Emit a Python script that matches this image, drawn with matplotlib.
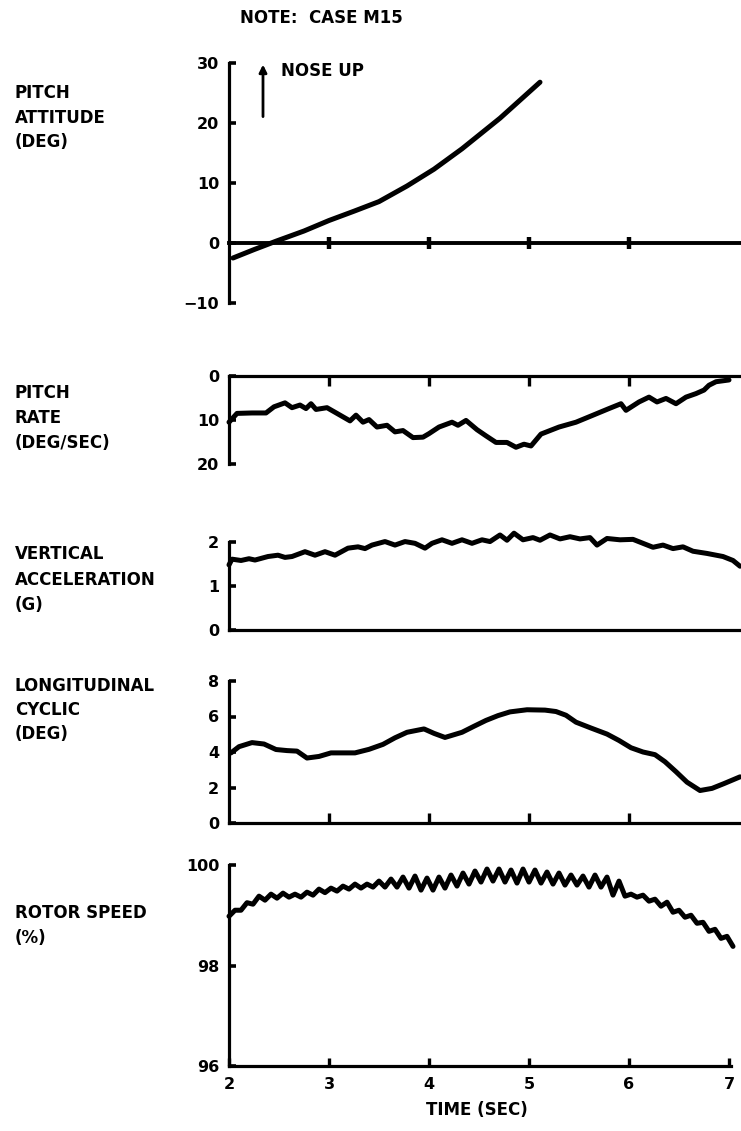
import matplotlib
matplotlib.use("Agg")
import matplotlib.pyplot as plt
import numpy as np

plt.rcParams['font.family'] = ['DejaVu Sans']
plt.rcParams['font.weight'] = 'bold'

# ---- time histories, case M15 ----
pitch_att_t = [2.04, 2.25, 2.47, 2.75, 3.00, 3.25, 3.50, 3.78, 4.05, 4.33, 4.71, 5.11]
pitch_att_deg = [-2.5, -1.1, 0.3, 2.0, 3.75, 5.3, 6.9, 9.5, 12.3, 15.7, 20.8, 26.8]

pitch_rate_t = [2.00, 2.08, 2.23, 2.37, 2.45, 2.56, 2.63, 2.71, 2.77, 2.82, 2.87, 2.98,
                3.08, 3.21, 3.27, 3.34, 3.40, 3.48, 3.58, 3.66, 3.74, 3.84, 3.94, 4.00,
                4.10, 4.23, 4.29, 4.37, 4.48, 4.57, 4.67, 4.78, 4.87, 4.95, 5.02, 5.12,
                5.30, 5.47, 5.63, 5.80, 5.92, 5.97, 6.10, 6.20, 6.28, 6.37, 6.47, 6.57,
                6.67, 6.75, 6.80, 6.87, 7.00]
pitch_rate_dps = [10.5, 8.5, 8.4, 8.4, 7.0, 6.1, 7.2, 6.6, 7.4, 6.3, 7.6, 7.2,
                  8.5, 10.2, 8.9, 10.5, 9.9, 11.6, 11.2, 12.7, 12.4, 14.0, 13.9, 13.1,
                  11.6, 10.5, 11.2, 10.1, 12.2, 13.6, 15.1, 15.1, 16.2, 15.5, 15.9, 13.2,
                  11.6, 10.5, 9.0, 7.4, 6.3, 7.8, 5.9, 4.8, 5.9, 5.1, 6.3, 4.8,
                  4.0, 3.2, 2.1, 1.3, 0.9]

vert_acc_t = [2.00, 2.03, 2.12, 2.20, 2.26, 2.39, 2.49, 2.56, 2.63, 2.76, 2.86, 2.96,
              3.06, 3.19, 3.29, 3.36, 3.43, 3.56, 3.66, 3.76, 3.86, 3.96, 4.03, 4.13,
              4.23, 4.33, 4.43, 4.53, 4.61, 4.71, 4.78, 4.85, 4.94, 5.04, 5.11, 5.21,
              5.31, 5.41, 5.51, 5.61, 5.68, 5.78, 5.91, 6.04, 6.14, 6.24, 6.34, 6.44,
              6.54, 6.64, 6.78, 6.94, 7.04, 7.11]
vert_acc_g = [1.48, 1.61, 1.58, 1.62, 1.59, 1.67, 1.70, 1.65, 1.67, 1.78, 1.70, 1.78,
              1.70, 1.86, 1.89, 1.85, 1.93, 2.01, 1.93, 2.01, 1.97, 1.86, 1.97, 2.05,
              1.97, 2.05, 1.97, 2.05, 2.01, 2.16, 2.04, 2.20, 2.05, 2.10, 2.04, 2.16,
              2.07, 2.12, 2.07, 2.10, 1.93, 2.08, 2.05, 2.06, 1.97, 1.88, 1.93, 1.85,
              1.89, 1.79, 1.74, 1.67, 1.58, 1.45]

long_cyc_t = [2.02, 2.10, 2.23, 2.35, 2.47, 2.58, 2.68, 2.78, 2.90, 3.02, 3.14, 3.26,
              3.40, 3.54, 3.66, 3.78, 3.95, 4.05, 4.16, 4.33, 4.45, 4.57, 4.69, 4.81,
              4.98, 5.16, 5.27, 5.37, 5.47, 5.62, 5.78, 5.90, 6.02, 6.14, 6.26, 6.36,
              6.47, 6.58, 6.71, 6.83, 6.95, 7.11]
long_cyc_deg = [3.95, 4.30, 4.53, 4.45, 4.14, 4.08, 4.05, 3.66, 3.75, 3.95, 3.95, 3.95,
                4.15, 4.43, 4.80, 5.11, 5.30, 5.05, 4.82, 5.11, 5.45, 5.78, 6.05, 6.26,
                6.38, 6.36, 6.28, 6.07, 5.68, 5.35, 5.01, 4.65, 4.24, 4.00, 3.85, 3.45,
                2.89, 2.30, 1.83, 1.95, 2.22, 2.60]

# rotor speed sampled every 0.06 s from t = 2.00 s
rotor_dt = 0.06
rotor_pct = [98.98, 99.10, 99.10, 99.25, 99.22, 99.38, 99.30, 99.42, 99.34, 99.44,
             99.36, 99.42, 99.36, 99.46, 99.40, 99.52, 99.45, 99.54, 99.48, 99.58,
             99.52, 99.62, 99.54, 99.62, 99.56, 99.68, 99.56, 99.72, 99.56, 99.76,
             99.54, 99.78, 99.50, 99.74, 99.50, 99.76, 99.54, 99.80, 99.58, 99.84,
             99.62, 99.88, 99.66, 99.92, 99.68, 99.92, 99.66, 99.90, 99.64, 99.92,
             99.66, 99.90, 99.64, 99.86, 99.62, 99.84, 99.60, 99.80, 99.60, 99.78,
             99.56, 99.80, 99.56, 99.76, 99.40, 99.68, 99.38, 99.42, 99.36, 99.40,
             99.28, 99.32, 99.18, 99.26, 99.06, 99.10, 98.96, 99.00, 98.84, 98.86,
             98.68, 98.72, 98.54, 98.58, 98.38]
rotor_t = 2.0 + rotor_dt * np.arange(len(rotor_pct))

x_ticks = [2, 3, 4, 5, 6, 7]

W, H = 741, 1131
fig = plt.figure(figsize=(W / 100, H / 100), dpi=100)


def rect(left, right, top, bottom):
    return [left / W, 1 - bottom / H, (right - left) / W, (bottom - top) / H]


def ftext(x, y, s, **kw):
    fig.text(x / W, 1 - y / H, s, fontsize=12, fontweight='bold', **kw)


LX0, LX1 = 229, 741
TMIN, TMAX = 2.0, 7.12
CURVE = dict(color='black', lw=3.6, solid_capstyle='round', solid_joinstyle='round')
SPW = 2.3
TICK_FS = 11.5


def base(ax, ylim):
    ax.set_xlim(TMIN, TMAX)
    ax.set_ylim(*ylim)
    for s in ax.spines.values():
        s.set_linewidth(SPW)
        s.set_visible(False)
    ax.spines['left'].set_visible(True)
    ax.tick_params(axis='y', direction='in', length=5, width=2.6,
                   labelsize=TICK_FS, pad=7)
    ax.patch.set_visible(False)


# pitch attitude
ax1 = fig.add_axes(rect(LX0, LX1, 63, 303))
base(ax1, (-10, 30))
ax1.spines['bottom'].set_visible(True)
ax1.spines['bottom'].set_position(('data', 0))
ax1.spines['bottom'].set_linewidth(2.8)
ax1.set_yticks([-10, 0, 10, 20, 30])
ax1.set_yticklabels(['\u221210', '0', '10', '20', '30'])
ax1.set_xticks(x_ticks[1:-1])
ax1.tick_params(axis='x', direction='inout', length=9, width=3.2, labelbottom=False)
ax1.plot(pitch_att_t, pitch_att_deg, **CURVE)
ax1.annotate('', xy=(2.34, 30.2), xytext=(2.34, 20.6),
             arrowprops=dict(arrowstyle='-|>', lw=2.0, color='black', mutation_scale=11),
             annotation_clip=False)
ax1.text(2.52, 28.6, 'NOSE UP', fontsize=12, fontweight='bold', va='center')

# pitch rate
ax2 = fig.add_axes(rect(LX0, LX1, 376, 464))
base(ax2, (20, 0))
ax2.spines['top'].set_visible(True)
ax2.set_yticks([0, 10, 20])
ax2.xaxis.tick_top()
ax2.set_xticks(x_ticks[1:-1])
ax2.tick_params(axis='x', direction='in', length=7, width=2.4, labeltop=False)
ax2.plot(pitch_rate_t, pitch_rate_dps, clip_on=False, **CURVE)

# vertical acceleration
ax3 = fig.add_axes(rect(LX0, LX1, 630 - 2.4 * 44, 630))
base(ax3, (0, 2.4))
ax3.spines['bottom'].set_visible(True)
ax3.spines['left'].set_bounds(0, 2)
ax3.set_yticks([0, 1, 2])
ax3.set_xticks([])
ax3.plot(vert_acc_t, vert_acc_g, clip_on=False, **CURVE)

# longitudinal cyclic
ax4 = fig.add_axes(rect(LX0, LX1, 681, 823))
base(ax4, (0, 8))
ax4.spines['bottom'].set_visible(True)
ax4.set_yticks([0, 2, 4, 6, 8])
ax4.set_xticks(x_ticks[1:-1])
ax4.tick_params(axis='x', direction='in', length=7, width=2.4, labelbottom=False)
ax4.plot(long_cyc_t, long_cyc_deg, clip_on=False, **CURVE)

# rotor speed
ax5 = fig.add_axes(rect(LX0, LX1, 865, 1066))
base(ax5, (96, 100))
ax5.spines['bottom'].set_visible(True)
ax5.spines['bottom'].set_bounds(2, 7.02)
ax5.set_yticks([96, 98, 100])
ax5.set_xticks(x_ticks)
ax5.tick_params(axis='x', direction='in', length=6, width=2.4, labelsize=TICK_FS, pad=8)
ax5.plot(rotor_t, rotor_pct, clip_on=False, **CURVE)
for lab in ax5.get_xticklabels() + ax5.get_yticklabels():
    lab.set_fontweight('bold')
for ax in (ax1, ax2, ax3, ax4):
    for lab in ax.get_yticklabels():
        lab.set_fontweight('bold')

# panel captions
LT = 15
for y, s in [(93, 'PITCH'), (118, 'ATTITUDE'), (142, '(DEG)'),
             (393, 'PITCH'), (418, 'RATE'), (443, '(DEG/SEC)'),
             (554, 'VERTICAL'), (580, 'ACCELERATION'), (605, '(G)'),
             (686, 'LONGITUDINAL'), (710, 'CYCLIC'), (734, '(DEG)'),
             (913, 'ROTOR SPEED'), (938, '(%)')]:
    ftext(LT, y, s, va='center', ha='left')

ftext(240, 18, 'NOTE:  CASE M15', va='center', ha='left')
ftext(477, 1110, 'TIME (SEC)', va='center', ha='center')

fig.savefig('out.png', dpi=100, facecolor='white')
